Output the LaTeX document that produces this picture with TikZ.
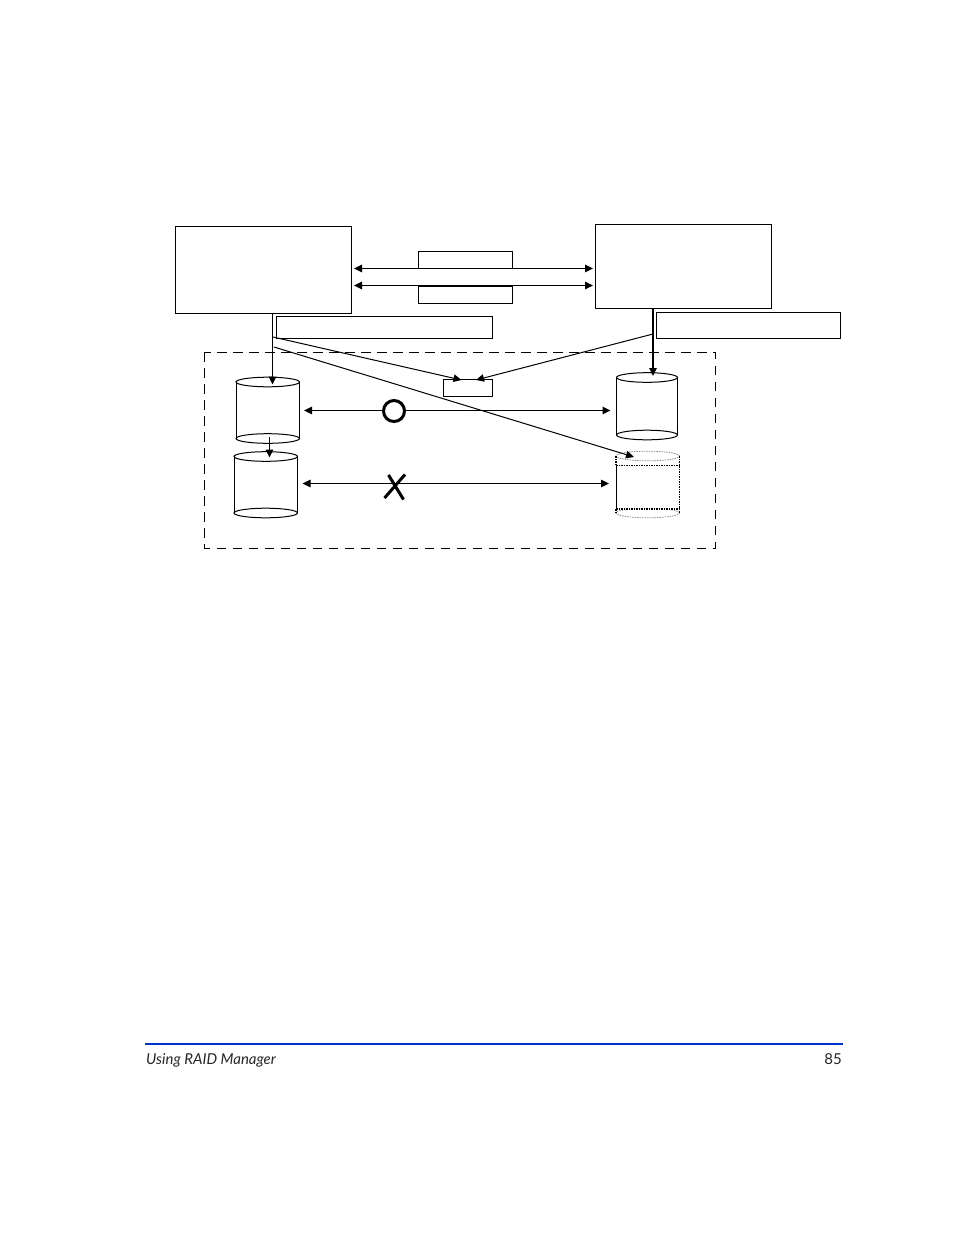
\documentclass[tikz,border=0pt]{standalone}
\usepackage{fontspec}
\setmainfont{Lato}
\usetikzlibrary{arrows.meta}
\definecolor{rulecol}{RGB}{0,51,204}
\tikzset{
  x=1pt,y=-1pt,
  box/.style={draw=black,line width=1pt,fill=white,inner sep=0pt,outer sep=0pt,anchor=north west},
  conn/.style={draw=black,line width=1pt,-{Triangle[length=8pt,width=7.5pt]}},
  biconn/.style={draw=black,line width=1pt,{Triangle[length=8pt,width=7.5pt]}-{Triangle[length=8pt,width=7.5pt]}},
  plain/.style={draw=black,line width=1pt},
  zone/.style={draw=black,line width=1pt,dash pattern=on 9.5pt off 6.5pt},
  heavy/.style={draw=black,line width=3pt},
  foot/.style={font=\fontsize{15}{17}\selectfont,inner sep=0pt,text=black!85},
  ghost/.style={draw=black!45,line width=.8pt,dash pattern=on 1.5pt off 1pt},
  ghostedge/.style={draw=black,line width=1.1pt,dash pattern=on 1.5pt off 1pt},
}
\newcommand{\drum}[5]{% name, x-left, x-right, y-top, y-bottom
  \coordinate (#1-tl) at (#2,#4);
  \coordinate (#1-tr) at (#3,#4);
  \coordinate (#1-bl) at (#2,#5);
  \coordinate (#1-br) at (#3,#5);
  \draw[plain] (#1-tl) -- (#1-bl) (#1-tr) -- (#1-br);
  \draw[plain] ({(#2+#3)/2},#4) ellipse [x radius={(#3-#2)/2},y radius=-4.8];
  \draw[plain] ({(#2+#3)/2},#5) ellipse [x radius={(#3-#2)/2},y radius=-4.8];
}
\begin{document}
\begin{tikzpicture}
\useasboundingbox (0,0) rectangle (954,1235);
\fill[white] (0,0) rectangle (954,1235);

% dashed zone
\draw[zone] (204.5,352) rectangle (715.5,548);

% boxes
\node[box,minimum width=176pt,minimum height=87pt] (hostA) at (175.5,226.5) {};
\node[box,minimum width=176pt,minimum height=84pt] (hostB) at (595.5,224.5) {};
\node[box,minimum width=94pt,minimum height=17pt] (linkT) at (418.5,251.5) {};
\node[box,minimum width=94pt,minimum height=17pt] (linkB) at (418.5,286) {};
\node[box,minimum width=216.5pt,minimum height=22pt] (labelA) at (276,316.5) {};
\node[box,minimum width=184.5pt,minimum height=26.5pt] (labelB) at (656,312) {};
\node[box,minimum width=49pt,minimum height=17pt] (cmd) at (443.5,379.5) {};

% drums
\drum{d1}{236}{299.5}{382}{438.5}
\drum{d2}{234}{297.5}{456.5}{513}
\drum{d3}{616.5}{677.5}{377.5}{435}

% ghost drum
\coordinate (d4-tl) at (616,456);
\coordinate (d4-tr) at (679.5,456);
\coordinate (d4-bl) at (616,513);
\coordinate (d4-br) at (679.5,513);
\draw[ghost] (647.75,456) ellipse [x radius=31.75,y radius=-4.8];
\draw[ghost] (647.75,513) ellipse [x radius=31.75,y radius=-4.8];
\draw[ghostedge] (d4-tl) -- (616,465.5) (d4-tr) -- (d4-br) (616,509) -- (d4-bl);
\draw[ghostedge] (616,465.5) -- (679,465.5) (616,509) -- (679,509);
\draw[plain] (616,465.5) -- (616,509);

% free ends
\coordinate (a1) at (354,268.5);   \coordinate (b1) at (593,268.5);
\coordinate (a2) at (354,285.5);   \coordinate (b2) at (593,285.5);
\coordinate (v1s) at (272.5,313.5); \coordinate (v1e) at (272.5,384.5);
\coordinate (v2s) at (269.5,437);   \coordinate (v2e) at (269.5,457.5);
\coordinate (v3s) at (653,308);     \coordinate (v3e) at (653,376);
\coordinate (dAs) at (273,337);     \coordinate (dAe) at (461.5,380);
\coordinate (dBs) at (653,334);     \coordinate (dBe) at (476,380);
\coordinate (dCs) at (274,347);     \coordinate (dCe) at (634,457);
\coordinate (h1s) at (304,410.5);   \coordinate (h1e) at (610.5,410.5);
\coordinate (h2s) at (302.5,483.5); \coordinate (h2e) at (609,483.5);

% connectors
\draw[biconn] (a1) -- (b1);
\draw[biconn] (a2) -- (b2);
\draw[conn] (v1s) -- (v1e);
\draw[conn] (v2s) -- (v2e);
\draw[conn,line width=1.3pt] (v3s) -- (v3e);
\draw[conn] (dAs) -- (dAe);
\draw[conn] (dBs) -- (dBe);
\draw[conn] (dCs) -- (dCe);
\draw[biconn] (h1s) -- (h1e);
\draw[biconn] (h2s) -- (h2e);

% marks
\draw[heavy,fill=white] (394,411) circle [radius=10.5];
\draw[heavy] (384.5,498) -- (405,474.5) (388.5,475) -- (403.5,499.5);

% footer
\coordinate (ruleL) at (145,1043.5);
\coordinate (ruleR) at (843,1043.5);
\draw[rulecol,line width=2pt] (ruleL) -- (ruleR);
\node[foot,anchor=base west] (ftitle) at (146,1064) {\itshape Using RAID Manager};
\node[foot,anchor=base east] (fpage) at (842,1064) {85};
\end{tikzpicture}
\end{document}
